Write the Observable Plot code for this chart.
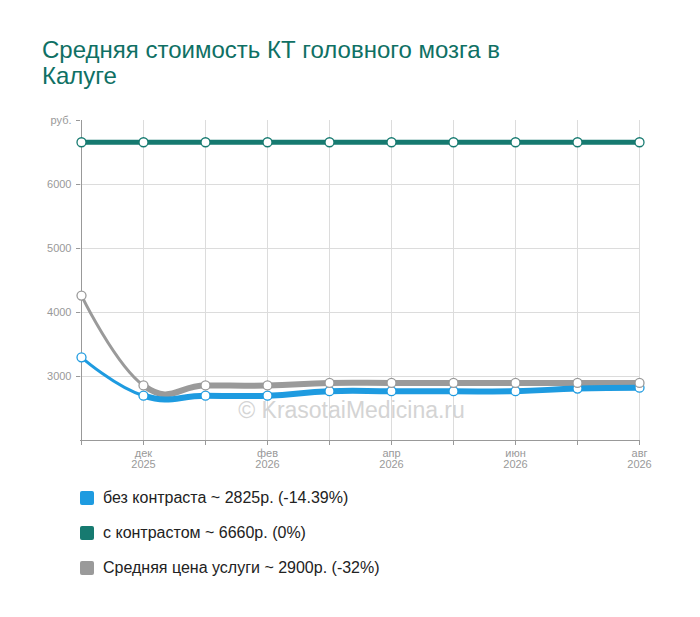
<!DOCTYPE html>
<html>
<head>
<meta charset="utf-8">
<script src="https://cdn.jsdelivr.net/npm/d3@7"></script>
<script src="https://cdn.jsdelivr.net/npm/@observablehq/plot@0.6"></script>
<style>
  body { margin: 0; background: #fff; font-family: "Liberation Sans", Arial, sans-serif; }
  #wrap { width: 700px; height: 617px; position: relative; }
  #title { position: absolute; left: 42px; top: 37px; font-size: 24px; line-height: 26px; color: #0f7064; width: 480px; }
  #chart { position: absolute; left: 0; top: 110px; }
  #legend { position: absolute; left: 80px; top: 488px; }
  .item { display: flex; align-items: center; height: 20px; margin-bottom: 15px; font-size: 16px; color: #222; }
  .sw { width: 14px; height: 14px; border-radius: 2px; margin-right: 9px; }
</style>
</head>
<body>
<div id="wrap">
  <div id="title">Средняя стоимость КТ головного мозга в Калуге</div>
  <div id="chart"></div>
  <div id="legend"></div>
</div>
<script>
const months = ["ноя 2025","дек 2025","янв 2026","фев 2026","мар 2026","апр 2026","май 2026","июн 2026","июл 2026","авг 2026"];
const monthLabels = ["", "дек\n2025", "", "фев\n2026", "", "апр\n2026", "", "июн\n2026", "", "авг\n2026"];
const noContrast = [3300, 2700, 2700, 2700, 2770, 2770, 2770, 2770, 2812, 2825];
const withContrast = [6660, 6660, 6660, 6660, 6660, 6660, 6660, 6660, 6660, 6660];
const average = [4265, 2860, 2860, 2860, 2900, 2900, 2900, 2900, 2900, 2900];
const seriesNames = ["без контраста", "с контрастом", "Средняя цена услуги"];
const legendTexts = ["без контраста ~ 2825р. (-14.39%)", "с контрастом ~ 6660р. (0%)", "Средняя цена услуги ~ 2900р. (-32%)"];
const colors = ["#1e9be0", "#167a70", "#9a9a9a"];
const yTicks = [3000, 4000, 5000, 6000, 7000];

const mk = vals => months.map((m, i) => ({m, v: vals[i]}));
const sBlue = mk(noContrast), sTeal = mk(withContrast), sGray = mk(average);
const cv = {curve: "cardinal", tension: -0.35};

const chart = Plot.plot({
  width: 700,
  height: 365,
  marginLeft: 80,
  marginRight: 60,
  marginTop: 10,
  marginBottom: 35,
  style: {fontFamily: '"Liberation Sans", Arial, sans-serif', fontSize: "11px", color: "#999", background: "transparent"},
  x: {type: "point", domain: months, padding: 0},
  y: {domain: [2000, 7000]},
  marks: [
    Plot.gridY([3000, 4000, 5000, 6000], {stroke: "#dcdcdc", strokeOpacity: 1}),
    Plot.ruleX(months.slice(1), {y1: 2000, y2: 7000, stroke: "#dcdcdc", strokeOpacity: 1}),
    Plot.ruleX([months[0]], {y1: 2000, y2: 7000, stroke: "#999"}),
    Plot.ruleY([2000], {stroke: "#999"}),
    Plot.axisY({ticks: yTicks, tickSize: 4, tickPadding: 5, fontSize: 11, tickFormat: d => d === 7000 ? "руб." : String(d), stroke: "#999", fill: "#999", label: null}),
    Plot.axisX({ticks: months, tickSize: 5, tickPadding: 3, fontSize: 11, tickFormat: d => monthLabels[months.indexOf(d)], stroke: "#999", fill: "#999", label: null, lineHeight: 1.05}),
    Plot.text(["© KrasotaiMedicina.ru"], {frameAnchor: "middle", x: () => months[4], dx: 22, y: () => 2470, fontSize: 23, fill: "#d4d4d4"}),
    Plot.line(sTeal, {x: "m", y: "v", stroke: colors[1], strokeWidth: 5, ...cv}),
    Plot.line(sGray, {x: "m", y: "v", stroke: colors[2], strokeWidth: 3, ...cv}),
    Plot.line(sGray, {x: "m", y: "v", stroke: colors[2], strokeWidth: 6, className: "thick", ...cv}),
    Plot.line(sBlue, {x: "m", y: "v", stroke: colors[0], strokeWidth: 3, ...cv}),
    Plot.line(sBlue, {x: "m", y: "v", stroke: colors[0], strokeWidth: 6, className: "thick", ...cv}),
    Plot.dot(sBlue, {x: "m", y: "v", r: 4.5, fill: "white", stroke: colors[0], strokeWidth: 1.3}),
    Plot.dot(sTeal, {x: "m", y: "v", r: 4.5, fill: "white", stroke: colors[1], strokeWidth: 1.3}),
    Plot.dot(sGray, {x: "m", y: "v", r: 4.5, fill: "white", stroke: colors[2], strokeWidth: 1.3})
  ]
});

// clip the thick part of the lower series so it starts at the second month
const xs = chart.scale("x");
const x0 = xs.apply(months[1]);
const ns = "http://www.w3.org/2000/svg";
const defs = document.createElementNS(ns, "defs");
const cp = document.createElementNS(ns, "clipPath");
cp.setAttribute("id", "thickclip");
const rect = document.createElementNS(ns, "rect");
rect.setAttribute("x", x0);
rect.setAttribute("y", 0);
rect.setAttribute("width", 700 - x0);
rect.setAttribute("height", 365);
cp.appendChild(rect);
defs.appendChild(cp);
chart.insertBefore(defs, chart.firstChild);
chart.querySelectorAll(".thick").forEach(g => g.setAttribute("clip-path", "url(#thickclip)"));

document.getElementById("chart").appendChild(chart);

const legend = document.getElementById("legend");
legendTexts.forEach((t, i) => {
  const d = document.createElement("div");
  d.className = "item";
  d.innerHTML = `<div class="sw" style="background:${colors[i]}"></div><span>${t}</span>`;
  legend.appendChild(d);
});
</script>
</body>
</html>
